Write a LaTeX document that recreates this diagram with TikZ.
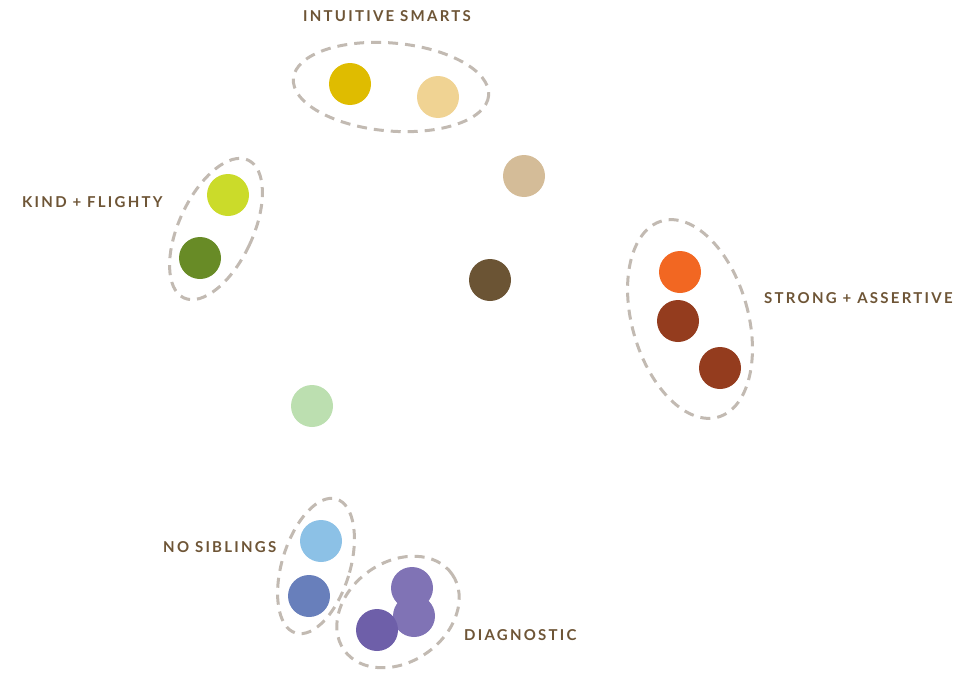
\documentclass[tikz,border=0pt]{standalone}
\usepackage{fontspec}
\setmainfont{Lato}[LetterSpace=15]
\definecolor{cYellow}{HTML}{DFBC00}
\definecolor{cSand}{HTML}{F0D393}
\definecolor{cTan}{HTML}{D4BC98}
\definecolor{cDarkBrown}{HTML}{6B5434}
\definecolor{cLime}{HTML}{CBDB2A}
\definecolor{cOlive}{HTML}{688B26}
\definecolor{cOrange}{HTML}{F26722}
\definecolor{cRust}{HTML}{943C1E}
\definecolor{cMint}{HTML}{BCDFB0}
\definecolor{cSky}{HTML}{8CC1E6}
\definecolor{cBlue}{HTML}{687FBB}
\definecolor{cLilac}{HTML}{8073B5}
\definecolor{cViolet}{HTML}{6E5FA9}
\definecolor{cLabel}{HTML}{6E5536}
\definecolor{cRing}{HTML}{C2BAB2}
\tikzset{
  dot/.style={circle, minimum size=42pt, inner sep=0pt, fill=#1},
  ring/.style={draw=cRing, line width=3pt, dash pattern=on 10pt off 7pt},
  grouplabel/.style={text=cLabel, font=\bfseries\fontsize{15}{16}\selectfont, inner sep=0pt}
}
\begin{document}
\begin{tikzpicture}[x=1pt,y=-1pt]
\useasboundingbox (0,0) rectangle (976,677);
% group outlines
\draw[ring] (391,87) ellipse[x radius=98, y radius=44, rotate=-5];
\draw[ring] (216,229) ellipse[x radius=37, y radius=76, rotate=-25];
\draw[ring] (690,319) ellipse[x radius=58, y radius=102, rotate=16];
\draw[ring] (316,566) ellipse[x radius=34, y radius=70, rotate=-17];
\draw[ring] (398,612) ellipse[x radius=66, y radius=50, rotate=35];
% dots
\node[dot=cYellow] (yellow) at (350,84) {};
\node[dot=cSand] (sand) at (438,97) {};
\node[dot=cTan] (tan) at (524,176) {};
\node[dot=cDarkBrown] (darkbrown) at (490,280) {};
\node[dot=cLime] (lime) at (228,195) {};
\node[dot=cOlive] (olive) at (200,258) {};
\node[dot=cOrange] (orange) at (680,272) {};
\node[dot=cRust] (rustA) at (678,321) {};
\node[dot=cRust] (rustB) at (720,368) {};
\node[dot=cMint] (mint) at (312,406) {};
\node[dot=cSky] (sky) at (321,541) {};
\node[dot=cBlue] (blue) at (309,596) {};
\node[dot=cLilac] (lilacA) at (412,588) {};
\node[dot=cLilac] (lilacB) at (414,616) {};
\node[dot=cViolet] (violet) at (377,630) {};
% labels
\node[grouplabel] (lblSmart) at (387,16) {INTUITIVE SMARTS};
\node[grouplabel, anchor=west] (lblKind) at (22,202) {KIND + FLIGHTY};
\node[grouplabel, anchor=west] (lblStrong) at (764,298) {STRONG + ASSERTIVE};
\node[grouplabel, anchor=west] (lblSib) at (163,547) {NO SIBLINGS};
\node[grouplabel, anchor=west] (lblDiag) at (464,635) {DIAGNOSTIC};
\end{tikzpicture}
\end{document}
